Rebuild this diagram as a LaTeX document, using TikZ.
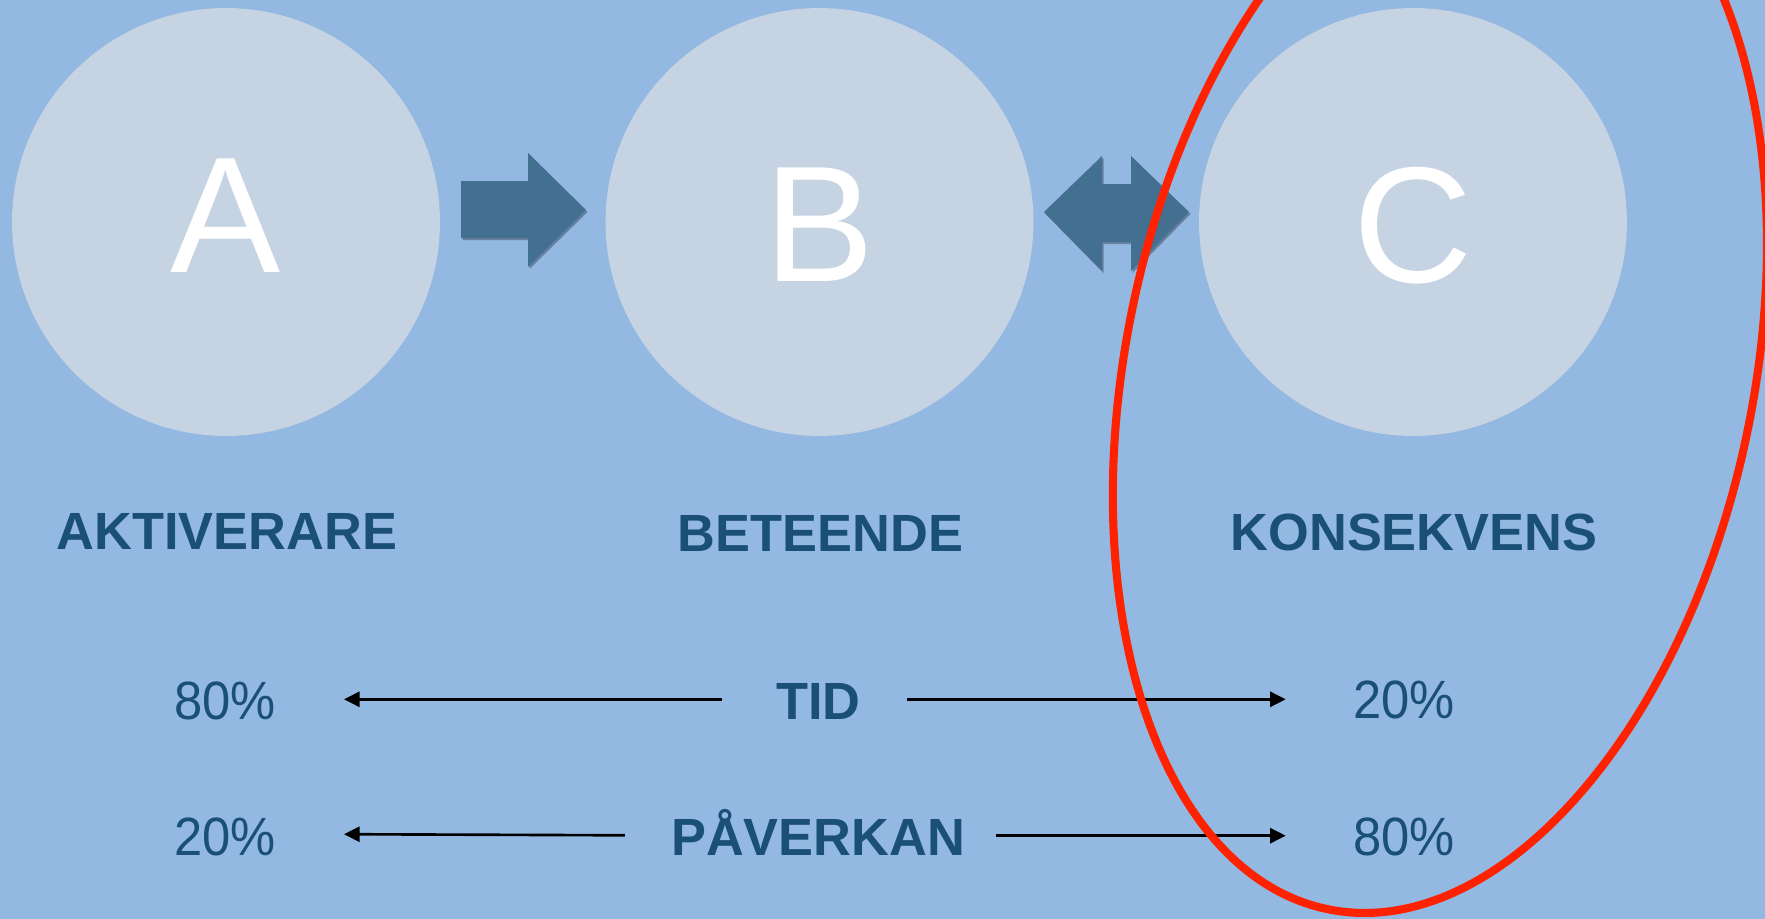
\documentclass[tikz,border=0pt]{standalone}
\usepackage{fontspec}
\setmainfont{Liberation Sans}
\newfontfamily\pctfont[FakeStretch=0.94]{Liberation Sans}
\usetikzlibrary{arrows.meta}
\definecolor{bgblue}{RGB}{147,184,225}
\definecolor{discfill}{RGB}{197,211,226}
\definecolor{labelblue}{RGB}{26,80,120}
\definecolor{blockblue}{RGB}{67,111,145}
\definecolor{ringred}{RGB}{255,34,0}
\begin{document}
\begin{tikzpicture}[x=0.02cm,y=-0.02cm,
  disc/.style={circle, fill=discfill, minimum size=8.56cm, inner sep=0pt},
  letter/.style={anchor=base, inner sep=0pt, text=white, font=\fontsize{94pt}{94pt}\selectfont},
  lab/.style={anchor=base, inner sep=0pt, text=labelblue, font=\fontsize{29.8pt}{30pt}\selectfont\bfseries},
  pct/.style={anchor=base, inner sep=0pt, text=labelblue, font=\fontsize{30.7pt}{31pt}\selectfont\pctfont},
  blockarrow/.style={fill=blockblue},
  blockshadow/.style={fill=black, opacity=0.3},
  thinarrow/.style={draw=black, line width=1.5pt, -{Triangle[length=8.9pt,width=8.6pt]}},
  ring/.style={draw=ringred, line width=4.6pt}
]
\useasboundingbox (0,0) rectangle (1765,919);
\clip (0,0) rectangle (1765,919);
\fill[bgblue] (0,0) rectangle (1765,919);

% discs
\node[disc] (discA) at (226,222) {};
\node[disc] (discB) at (819.5,222) {};
\node[disc] (discC) at (1413,222) {};

% letters
\node[letter] (letA) at (226,272.4) {A};
\node[letter] (letB) at (820,281.4) {B};
\node[letter] (letC) at (1413,282) {C};

% block arrows
\fill[blockshadow] (462.5,183) -- (529.5,183) -- (529.5,155) -- (587.5,212) -- (529.5,269) -- (529.5,240) -- (462.5,240) -- cycle;
\fill[blockarrow] (461,181) -- (528,181) -- (528,153) -- (586,210) -- (528,267) -- (528,238) -- (461,238) -- cycle;
\fill[blockshadow] (1045.5,214) -- (1103.5,158) -- (1103.5,186) -- (1132.5,186) -- (1132.5,158) -- (1190.5,214) -- (1132.5,273) -- (1132.5,244) -- (1103.5,244) -- (1103.5,273) -- cycle;
\fill[blockarrow] (1044,212) -- (1102,156) -- (1102,184) -- (1131,184) -- (1131,156) -- (1189,212) -- (1131,271) -- (1131,242) -- (1102,242) -- (1102,271) -- cycle;

% labels
\node[lab] (labA) at (227,549.3) {AKTIVERARE};
\node[lab] (labB) at (820.5,551.6) {BETEENDE};
\node[lab] (labC) at (1414,550) {KONSEKVENS};

\node[lab] (tid) at (818.5,719.3) {TID};
\node[lab] (pav) at (818,855) {PÅVERKAN};

\node[pct] (pA1) at (225,719.3) {80\%};
\node[pct] (pC1) at (1404,718.5) {20\%};
\node[pct] (pA2) at (225,855.5) {20\%};
\node[pct] (pC2) at (1404,855.7) {80\%};

% thin arrows
\coordinate (tidL) at (721.6,699.3);
\coordinate (tidLend) at (344,699.3);
\coordinate (tidR) at (907.3,699.3);
\coordinate (tidRend) at (1285.7,699.3);
\coordinate (pavL) at (624.8,835.3);
\coordinate (pavLend) at (344,834.2);
\coordinate (pavR) at (996.2,835.7);
\coordinate (pavRend) at (1285.7,835.7);
\draw[thinarrow] (tidL) -- (tidLend);
\draw[thinarrow] (tidR) -- (tidRend);
\draw[thinarrow] (pavL) -- (pavLend);
\draw[thinarrow] (pavR) -- (pavRend);

% red ring
\coordinate (ringc) at (1440,370);
\draw[ring, rotate around={-11.8:(ringc)}] (ringc) ellipse [x radius=313.6, y radius=550.8];
\end{tikzpicture}
\end{document}
